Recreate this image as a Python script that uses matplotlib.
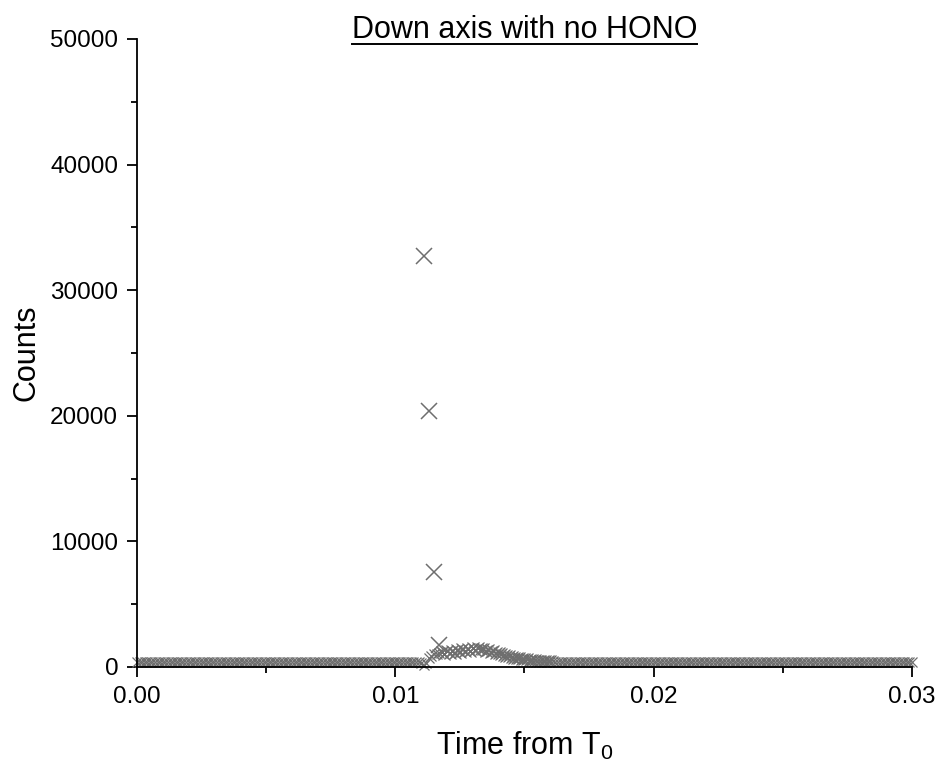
import numpy as np
import matplotlib
matplotlib.use("Agg")
import matplotlib.pyplot as plt
from matplotlib.lines import Line2D
from matplotlib.ticker import MultipleLocator, FormatStrFormatter

plt.rcParams['font.family'] = ['Liberation Sans', 'DejaVu Sans']
plt.rcParams['mathtext.fontset'] = 'custom'
plt.rcParams['mathtext.rm'] = 'Liberation Sans'
plt.rcParams['mathtext.it'] = 'Liberation Sans:italic'

# Sampled detector counts, one reading every 0.1 ms
t_step = 0.0001
counts_pre = [
    410, 395, 405, 400, 415, 390, 405, 410, 395, 400,
    405, 420, 395, 400, 410, 390, 405, 400, 415, 395,
    400, 410, 405, 395, 400, 415, 390, 405, 400, 410,
    395, 405, 400, 420, 395, 410, 400, 390, 405, 415,
    400, 395, 410, 405, 400, 390, 415, 400, 405, 395,
    410, 400, 405, 420, 395, 400, 410, 390, 405, 400,
    415, 395, 400, 410, 405, 395, 400, 415, 390, 405,
    400, 410, 395, 405, 400, 420, 395, 410, 400, 390,
    405, 415, 400, 395, 410, 405, 400, 390, 415, 400,
    405, 395, 410, 400, 405, 420, 395, 400, 410, 390,
    405, 400, 415, 395, 400, 410, 405, 395, 400, 380,
    330, 150, 300, 700, 850, 1000, 1050, 1100,
]
counts_hump = [
    1200, 1000, 1250, 1100, 1300, 1150, 1350, 1200, 1400, 1250,
    1450, 1300, 1500, 1350, 1480, 1400, 1450, 1300, 1350, 1200,
    1250, 1100, 1100, 1000, 950, 900, 850, 800, 750, 720,
    680, 650, 620, 600, 570, 550, 530, 510, 500, 480,
    470, 460, 450,
]
counts_post = [
    440, 430, 425, 420, 415, 420, 410, 415, 405, 410,
    400, 415, 405, 400, 410, 395, 405, 400, 415, 395,
    400, 410, 405, 395, 400, 415, 390, 405, 400, 410,
    395, 405, 400, 420, 395, 410, 400, 390, 405, 415,
    400, 395, 410, 405, 400, 390, 415, 400, 405, 395,
    410, 400, 405, 420, 395, 400, 410, 390, 405, 400,
    415, 395, 400, 410, 405, 395, 400, 415, 390, 405,
    400, 410, 395, 405, 400, 420, 395, 410, 400, 390,
    405, 415, 400, 395, 410, 405, 400, 390, 415, 400,
    405, 395, 410, 400, 405, 420, 395, 400, 410, 390,
    405, 400, 415, 395, 400, 410, 405, 395, 400, 410,
    405, 400, 395, 410, 400, 405, 395, 400, 410, 405,
    400, 395, 410, 400, 405, 400, 395, 410, 400, 405,
    410, 395, 400, 405, 415, 400, 395, 410, 400, 405,
]
counts = counts_pre + counts_hump + counts_post
time = np.arange(len(counts)) * t_step
n_pre, n_hump = len(counts_pre), len(counts_hump)
hump_time = time[n_pre:n_pre + n_hump]

# Initial burst readings
spike_time = [0.0111, 0.0113, 0.0115, 0.0117]
spike_counts = [32700, 20400, 7550, 1750]

x_ticks = [0.00, 0.01, 0.02, 0.03]
y_ticks = [0, 10000, 20000, 30000, 40000, 50000]

fig = plt.figure(figsize=(9.42, 7.67), dpi=100)
ax = fig.add_axes([0.1454, 0.1304, 0.8227, 0.8188])

marker_color = '#6e6e6e'
ax.plot(time, counts, linestyle='none', marker='x', markersize=6.5,
        markeredgewidth=0.9, color=marker_color, clip_on=False)
ax.plot(hump_time, counts_hump, linestyle='none', marker='x', markersize=9,
        markeredgewidth=0.9, color=marker_color)
ax.plot(spike_time, spike_counts, linestyle='none', marker='x', markersize=12,
        markeredgewidth=1.1, color=marker_color)

ax.set_xlim(0, 0.03)
ax.set_ylim(0, 50000)
ax.set_xticks(x_ticks)
ax.set_yticks(y_ticks)
ax.xaxis.set_major_formatter(FormatStrFormatter('%.2f'))
ax.xaxis.set_minor_locator(MultipleLocator(0.005))
ax.yaxis.set_minor_locator(MultipleLocator(5000))

for side in ('top', 'right'):
    ax.spines[side].set_visible(False)
for side in ('left', 'bottom'):
    ax.spines[side].set_linewidth(1.3)
    ax.spines[side].set_color('black')

ax.tick_params(which='major', direction='out', length=7.5, width=1.3,
               labelsize=17.5, pad=6, colors='black')
ax.tick_params(which='minor', direction='out', length=4, width=1.3)

ax.set_ylabel('Counts', fontsize=22, labelpad=6)
ax.set_xlabel(r'Time from T$_\mathregular{0}$', fontsize=22, labelpad=16)

title = fig.text(0.557, 1 - 30 / 767, 'Down axis with no HONO', fontsize=22,
                 ha='center', va='center')

# underline the title
fig.canvas.draw()
bb = title.get_window_extent(renderer=fig.canvas.get_renderer())
W, H = fig.canvas.get_width_height()
y_line = (bb.y0 + 1) / H
fig.add_artist(Line2D([bb.x0 / W, bb.x1 / W], [y_line, y_line],
                      transform=fig.transFigure, color='black', linewidth=1.4))

fig.savefig('out.png', dpi=100)
